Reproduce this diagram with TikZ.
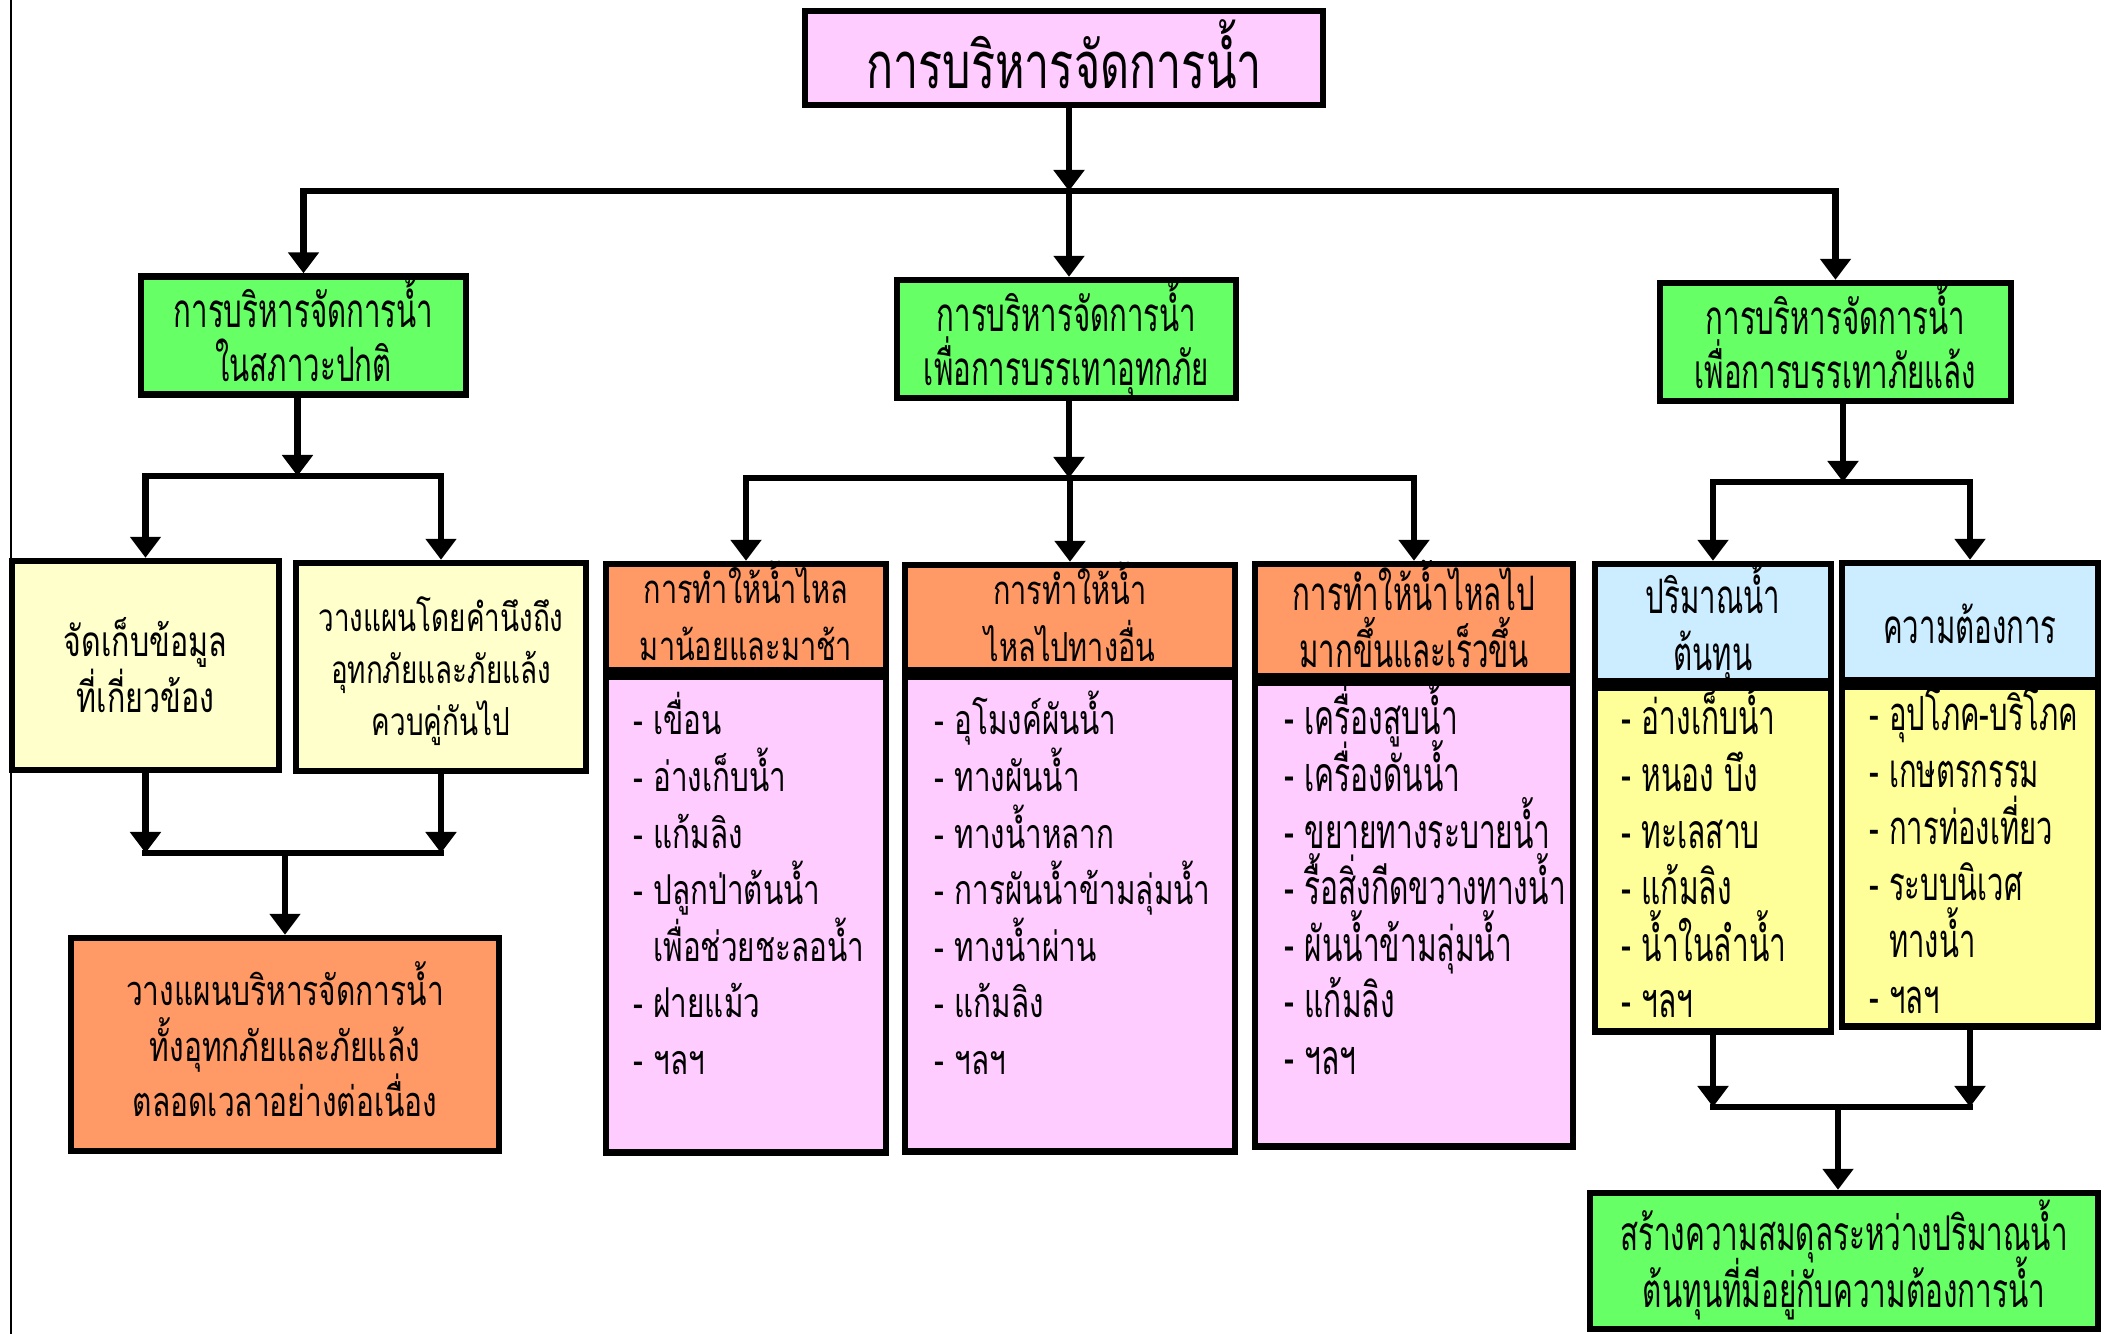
\documentclass[tikz,border=0pt]{standalone}
\usepackage{fontspec}
\newfontfamily\thaiwide[Script=Thai,FakeStretch=0.72]{Loma}
\newfontfamily\thaititle[Script=Thai,FakeStretch=0.69]{Loma}
\newfontfamily\thainarrow[Script=Thai,FakeStretch=0.62]{Loma}
\usetikzlibrary{arrows.meta,positioning}
\definecolor{pinkbg}{HTML}{FFCCFF}
\definecolor{greenbg}{HTML}{66FF66}
\definecolor{creambg}{HTML}{FFFFCC}
\definecolor{orangebg}{HTML}{FF9966}
\definecolor{bluebg}{HTML}{CCECFF}
\definecolor{yellowbg}{HTML}{FFFF99}
\newcommand{\tightlines}{\lineskiplimit-50pt\relax}
\newcommand{\itemlines}[1]{\parbox[t]{5cm}{\baselineskip16.07pt\tightlines #1}}
\tikzset{
  box/.style={draw, line width=1.8pt, align=center, inner sep=0pt},
  titlebox/.style={box, fill=pinkbg, minimum width=5.18cm, minimum height=0.94cm, text height=18.6pt, text depth=1pt, font=\thaititle\fontsize{18.5}{22}\selectfont},
  mainbox/.style={box, fill=greenbg, minimum height=1.18cm, text height=26.3pt, text depth=0pt, font=\thainarrow\fontsize{13.5}{15.4}\selectfont\tightlines},
  notebox/.style={box, fill=creambg, text height=26.6pt, text depth=0pt, font=\thaiwide\fontsize{12}{16}\selectfont\tightlines},
  resultbox/.style={box, fill=orangebg, text height=41.2pt, text depth=0pt, font=\thaiwide\fontsize{11.8}{15.9}\selectfont\tightlines},
  headbox/.style={box, fill=orangebg, text height=25pt, text depth=0pt, font=\thaiwide\fontsize{11.4}{16.2}\selectfont\tightlines},
  narrowhead/.style={box, text height=27.2pt, text depth=0pt, font=\thainarrow\fontsize{13.5}{16.2}\selectfont\tightlines},
  bodybox/.style={box, fill=pinkbg},
  listtext/.style={anchor=base west, inner sep=0pt, align=left},
  widelist/.style={listtext, font=\thaiwide\fontsize{11.7}{16.07}\selectfont},
  narrowlist/.style={listtext, font=\thainarrow\fontsize{13.7}{16.07}\selectfont},
  arrow/.style={-{Triangle[width=0.3cm,length=0.21cm]}, line width=1.9pt},
  busline/.style={line width=1.9pt, line cap=rect}
}
\begin{document}
\begin{tikzpicture}[x=0.01cm, y=-0.01cm]
  \useasboundingbox[fill=white] (0,0) rectangle (2111,1334);
  \draw[line width=0.8pt] (11,0) -- (11,1334);

  % top level
  \node[titlebox] (water) at (1064,58) {การบริหารจัดการน้ำ};
  \node[mainbox, minimum width=3.25cm] (normal) at (303.5,335.5) {การบริหารจัดการน้ำ\\ในสภาวะปกติ};
  \node[mainbox, minimum width=3.39cm] (flood) at (1066.5,339) {การบริหารจัดการน้ำ\\เพื่อการบรรเทาอุทกภัย};
  \node[mainbox, minimum width=3.51cm] (drought) at (1835.5,342) {การบริหารจัดการน้ำ\\เพื่อการบรรเทาภัยแล้ง};

  % normal branch
  \node[notebox, minimum width=2.67cm, minimum height=2.09cm] (data) at (145.5,665.5) {จัดเก็บข้อมูล\\ที่เกี่ยวข้อง};
  \node[notebox, minimum width=2.90cm, minimum height=2.08cm, text height=39.1pt, font=\thaiwide\fontsize{11}{14.8}\selectfont\tightlines] (plan) at (441,667) {วางแผนโดยคำนึงถึง\\อุทกภัยและภัยแล้ง\\ควบคู่กันไป};
  \node[resultbox, minimum width=4.28cm, minimum height=2.13cm] (allyear) at (285,1044.5) {วางแผนบริหารจัดการน้ำ\\ทั้งอุทกภัยและภัยแล้ง\\ตลอดเวลาอย่างต่อเนื่อง};

  % flood branch
  \node[headbox, minimum width=2.80cm, minimum height=1.06cm] (slow) at (746,617) {การทำให้น้ำไหล\\มาน้อยและมาช้า};
  \node[bodybox, minimum width=2.80cm, minimum height=4.76cm, below=0pt of slow] (slowbody) {};
  \node[headbox, minimum width=3.30cm, minimum height=1.05cm] (divert) at (1070,617.5) {การทำให้น้ำ\\ไหลไปทางอื่น};
  \node[bodybox, minimum width=3.30cm, minimum height=4.75cm, below=0pt of divert] (divertbody) {};
  \node[narrowhead, fill=orangebg, minimum width=3.18cm, minimum height=1.12cm] (fast) at (1414,620) {การทำให้น้ำไหลไป\\มากขึ้นและเร็วขึ้น};
  \node[bodybox, minimum width=3.18cm, minimum height=4.64cm, below=0pt of fast] (fastbody) {};

  \node[widelist] (slowlist) at (633,735) {\itemlines{- เขื่อน\\- อ่างเก็บน้ำ\\- แก้มลิง\\- ปลูกป่าต้นน้ำ\\\phantom{- }เพื่อช่วยชะลอน้ำ\\- ฝายแม้ว\\- ฯลฯ}};
  \node[widelist] (divertlist) at (934,735) {\itemlines{- อุโมงค์ผันน้ำ\\- ทางผันน้ำ\\- ทางน้ำหลาก\\- การผันน้ำข้ามลุ่มน้ำ\\- ทางน้ำผ่าน\\- แก้มลิง\\- ฯลฯ}};
  \node[narrowlist] (fastlist) at (1284,735) {\itemlines{- เครื่องสูบน้ำ\\- เครื่องดันน้ำ\\- ขยายทางระบายน้ำ\\- รื้อสิ่งกีดขวางทางน้ำ\\- ผันน้ำข้ามลุ่มน้ำ\\- แก้มลิง\\- ฯลฯ}};

  % drought branch
  \node[narrowhead, fill=bluebg, minimum width=2.36cm, minimum height=1.17cm] (supply) at (1713,622.5) {ปริมาณน้ำ\\ต้นทุน};
  \node[box, fill=yellowbg, minimum width=2.36cm, minimum height=3.44cm, below=0pt of supply] (supplybody) {};
  \node[narrowhead, fill=bluebg, minimum width=2.56cm, minimum height=1.17cm, text height=14.9pt, text depth=2.2pt] (demand) at (1970,621.5) {ความต้องการ};
  \node[box, fill=yellowbg, minimum width=2.56cm, minimum height=3.40cm, below=0pt of demand] (demandbody) {};

  \node[narrowlist] (supplylist) at (1621,735) {\itemlines{- อ่างเก็บน้ำ\\- หนอง บึง\\- ทะเลสาบ\\- แก้มลิง\\- น้ำในลำน้ำ\\- ฯลฯ}};
  \node[narrowlist, font=\thainarrow\fontsize{13.4}{16.07}\selectfont] (demandlist) at (1869,731) {\itemlines{- อุปโภค-บริโภค\\- เกษตรกรรม\\- การท่องเที่ยว\\- ระบบนิเวศ\\\phantom{- }ทางน้ำ\\- ฯลฯ}};

  \node[mainbox, minimum width=5.08cm, minimum height=1.36cm, text height=26.2pt, font=\thainarrow\fontsize{13.6}{16}\selectfont\tightlines] (balance) at (1844,1261) {สร้างความสมดุลระหว่างปริมาณน้ำ\\ต้นทุนที่มีอยู่กับความต้องการน้ำ};

  % bus junctions
  \coordinate (topbus) at (1069,191);
  \coordinate (normalbus) at (297.5,476);
  \coordinate (mergebus) at (285,853);
  \coordinate (floodbus) at (1069,478);
  \coordinate (droughtbus) at (1843,482);
  \coordinate (balancebus) at (1838,1107);

  % connectors: top level
  \draw[arrow] (water.south -| topbus) -- (topbus);
  \draw[busline] (normal.north |- topbus) -- (drought.north |- topbus);
  \draw[arrow] (normal.north |- topbus) -- (normal.north);
  \draw[arrow] (topbus) -- (topbus |- flood.north);
  \draw[arrow] (drought.north |- topbus) -- (drought.north);

  % connectors: normal branch
  \draw[arrow] (normal.south -| normalbus) -- (normalbus);
  \draw[busline] (data.north |- normalbus) -- (plan.north |- normalbus);
  \draw[arrow] (data.north |- normalbus) -- (data.north);
  \draw[arrow] (plan.north |- normalbus) -- (plan.north);
  \draw[arrow] (data.south) -- (data.south |- mergebus);
  \draw[arrow] (plan.south) -- (plan.south |- mergebus);
  \draw[busline] (data.south |- mergebus) -- (plan.south |- mergebus);
  \draw[arrow] (mergebus) -- (allyear.north);

  % connectors: flood branch
  \draw[arrow] (flood.south -| floodbus) -- (floodbus);
  \draw[busline] (slow.north |- floodbus) -- (fast.north |- floodbus);
  \draw[arrow] (slow.north |- floodbus) -- (slow.north);
  \draw[arrow] (divert.north |- floodbus) -- (divert.north);
  \draw[arrow] (fast.north |- floodbus) -- (fast.north);

  % connectors: drought branch
  \draw[arrow] (drought.south -| droughtbus) -- (droughtbus);
  \draw[busline] (supply.north |- droughtbus) -- (demand.north |- droughtbus);
  \draw[arrow] (supply.north |- droughtbus) -- (supply.north);
  \draw[arrow] (demand.north |- droughtbus) -- (demand.north);
  \draw[arrow] (supplybody.south) -- (supplybody.south |- balancebus);
  \draw[arrow] (demandbody.south) -- (demandbody.south |- balancebus);
  \draw[busline] (supplybody.south |- balancebus) -- (demandbody.south |- balancebus);
  \draw[arrow] (balancebus) -- (balancebus |- balance.north);
\end{tikzpicture}
\end{document}
